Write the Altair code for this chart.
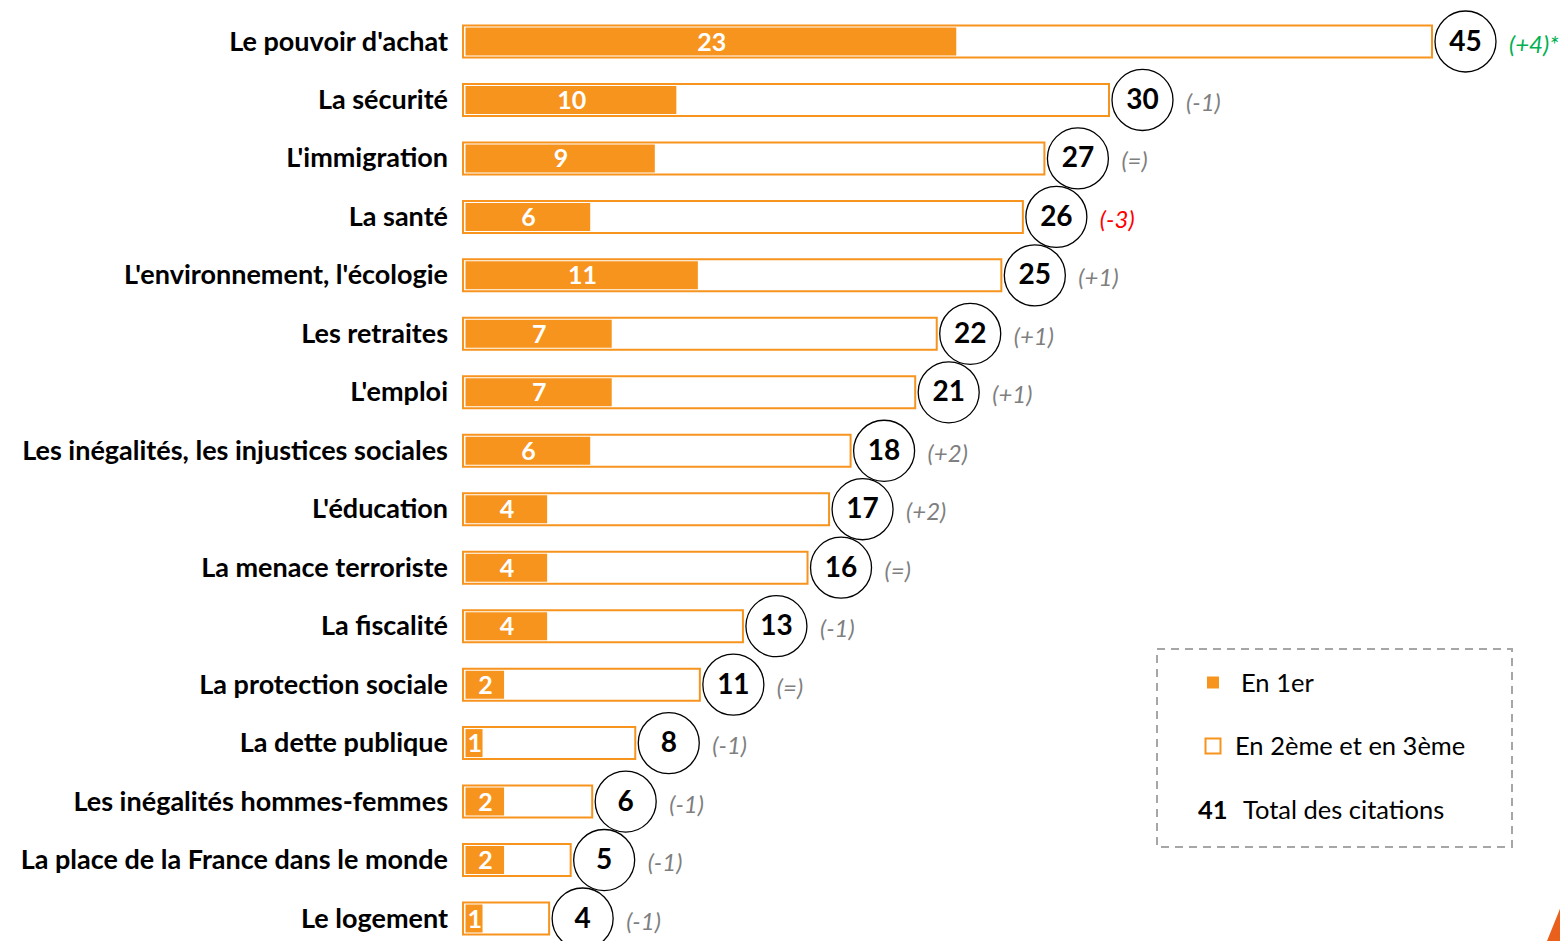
import altair as alt
import pandas as pd

categories = [
    "Le pouvoir d'achat", "La sécurité", "L'immigration", "La santé",
    "L'environnement, l'écologie", "Les retraites", "L'emploi",
    "Les inégalités, les injustices sociales", "L'éducation",
    "La menace terroriste", "La fiscalité", "La protection sociale",
    "La dette publique", "Les inégalités hommes-femmes",
    "La place de la France dans le monde", "Le logement",
]
first_rank = [23, 10, 9, 6, 11, 7, 7, 6, 4, 4, 4, 2, 1, 2, 2, 1]
total = [45, 30, 27, 26, 25, 22, 21, 18, 17, 16, 13, 11, 8, 6, 5, 4]
change = ["(+4)*", "(-1)", "(=)", "(-3)", "(+1)", "(+1)", "(+1)", "(+2)",
          "(+2)", "(=)", "(-1)", "(=)", "(-1)", "(-1)", "(-1)", "(-1)"]
change_tone = ["up", "flat", "flat", "down", "flat", "flat", "flat", "flat",
               "flat", "flat", "flat", "flat", "flat", "flat", "flat", "flat"]

legend_labels = ["En 1er", "En 2ème et en 3ème", "Total des citations"]
legend_total_example = "41"

ORANGE = "#F7941E"
FONT = "Lato"

df = pd.DataFrame({
    "cat": categories,
    "idx": list(range(len(categories))),
    "first": first_rank,
    "total": total,
    "change": change,
    "tone": change_tone,
})

W, H = 1097, 933
px_per_unit = 969 / 45
step = 877 / 15
xscale = alt.Scale(domain=[0, W / px_per_unit], nice=False, zero=False)
yscale = alt.Scale(domain=[-33.5 / step, (H - 33.5) / step], reverse=True, nice=False, zero=False)

base = alt.Chart(df).transform_calculate(
    zero="0",
    lo="datum.idx - 0.2737",
    hi="datum.idx + 0.2737",
    lo2="datum.idx - 0.2395",
    hi2="datum.idx + 0.2395",
    mid="datum.first / 2",
)

X = lambda f: alt.X(f, type="quantitative", scale=xscale, axis=None)
Y = lambda f: alt.Y(f, type="quantitative", scale=yscale, axis=None)

outer = base.mark_rect(fill="white", stroke=ORANGE, strokeWidth=2).encode(
    x=X("zero"), x2="total", y=Y("lo"), y2="hi")

inner = base.mark_rect(fill=ORANGE, xOffset=2.5, x2Offset=-2).encode(
    x=X("zero"), x2="first", y=Y("lo2"), y2="hi2")

inner_txt = base.mark_text(color="white", font=FONT, fontWeight="bold", fontSize=25,
                           baseline="middle", align="center", xOffset=1, dy=1).encode(
    x=X("mid"), y=Y("idx"), text="first:Q")

circles = base.mark_point(shape="circle", size=3721, filled=False, stroke="black",
                          strokeWidth=1.3, opacity=1, xOffset=33.5).encode(
    x=X("total"), y=Y("idx"))

tot_txt = base.mark_text(color="black", font=FONT, fontWeight="bold", fontSize=28,
                         baseline="middle", align="center", xOffset=33.5, dy=1).encode(
    x=X("total"), y=Y("idx"), text="total:Q")

chg_txt = base.mark_text(font=FONT, fontStyle="italic", fontSize=24,
                         baseline="middle", align="left", xOffset=77, dy=4).encode(
    x=X("total"), y=Y("idx"), text="change:N",
    color=alt.Color("tone:N", scale=alt.Scale(domain=["up", "flat", "down"],
                                              range=["#00B050", "#7F7F7F", "#FF0000"]),
                    legend=None))

cat_txt = base.mark_text(color="black", font=FONT, fontWeight="bold", fontSize=27,
                         baseline="middle", align="right", xOffset=-15, dy=1).encode(
    x=X("zero"), y=Y("idx"), text="cat:N")

# legend box (decorative, pixel placed)
one = alt.Chart(pd.DataFrame({"k": [0]}))
leg_box = one.mark_rect(fill="transparent", stroke="#A6A6A6", strokeWidth=2,
                        strokeDash=[8, 6]).encode(
    x=alt.value(694), x2=alt.value(1049), y=alt.value(641), y2=alt.value(839))
leg_sq1 = one.mark_square(size=144, color=ORANGE, opacity=1).encode(
    x=alt.value(750), y=alt.value(674.5))
leg_sq2 = one.mark_square(size=225, filled=False, stroke=ORANGE, strokeWidth=2,
                          opacity=1).encode(x=alt.value(750), y=alt.value(738))
LEG_FS = 25.5
leg_t1 = one.mark_text(text=legend_labels[0], font=FONT, fontSize=LEG_FS, align="left",
                       baseline="middle", color="black").encode(
    x=alt.value(778), y=alt.value(675.5))
leg_t2 = one.mark_text(text=legend_labels[1], font=FONT, fontSize=LEG_FS, align="left",
                       baseline="middle", color="black").encode(
    x=alt.value(772), y=alt.value(739))
leg_t3n = one.mark_text(text=legend_total_example, font=FONT, fontSize=LEG_FS,
                        fontWeight="bold", align="left", baseline="middle",
                        color="black").encode(x=alt.value(735), y=alt.value(803))
leg_t3 = one.mark_text(text=legend_labels[2], font=FONT, fontSize=LEG_FS, align="left",
                       baseline="middle", color="black").encode(
    x=alt.value(780), y=alt.value(803))

logo = one.mark_point(shape="M -0.404 0.5 L 0 -0.5 L 0.615 0.5 Z", size=10816,
                      filled=True, color="#E8601C", opacity=1).encode(
    x=alt.value(1105), y=alt.value(907))

chart = alt.layer(
    outer, inner, inner_txt, circles, tot_txt, chg_txt, cat_txt,
    leg_box, leg_sq1, leg_sq2, leg_t1, leg_t2, leg_t3n, leg_t3, logo,
).properties(
    width=W, height=H,
    autosize=alt.AutoSizeParams(type="none"),
    padding={"left": 455, "top": 0, "right": 0, "bottom": 0},
).configure_view(stroke=None)

chart.save("out.html", embed_options={"renderer": "svg", "actions": False})
